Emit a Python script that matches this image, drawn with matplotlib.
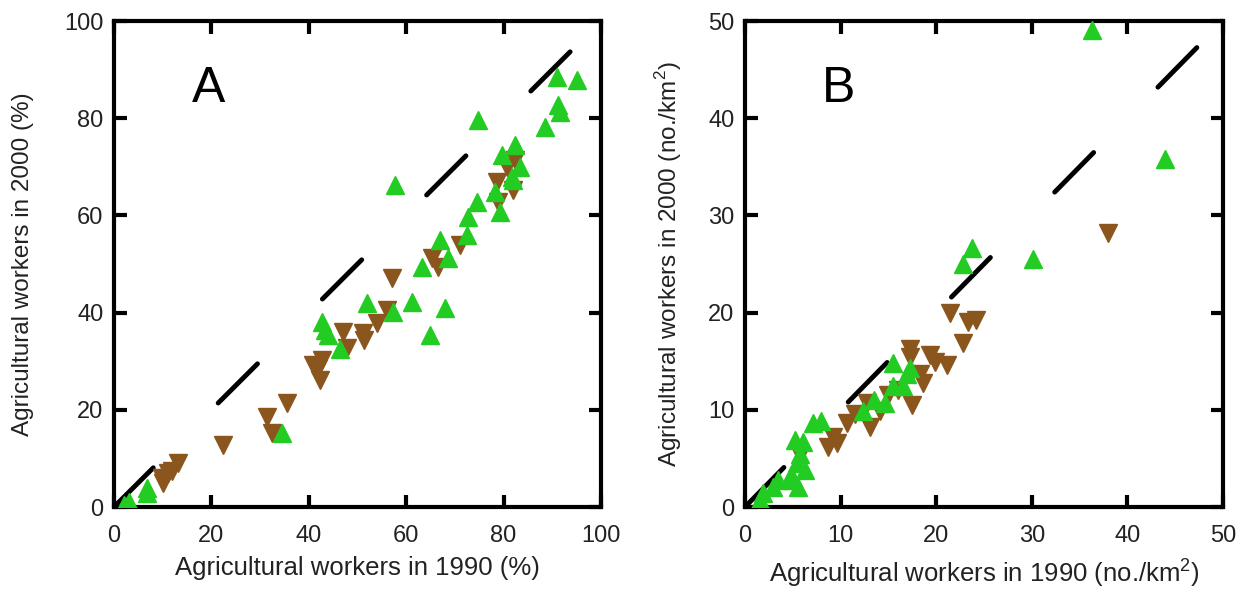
import matplotlib
matplotlib.use("Agg")
import matplotlib.pyplot as plt

plt.rcParams['font.family'] = ['Liberation Sans', 'DejaVu Sans']
plt.rcParams['mathtext.fontset'] = 'custom'
plt.rcParams['mathtext.rm'] = 'Liberation Sans'
plt.rcParams['lines.scale_dashes'] = False

# ---- data, panel A (%) ----
a_up_x = [2, 3, 6.8, 6.8, 34.5, 42.7, 43.3, 44, 46.4, 52, 57.3, 57.7, 61.2, 68, 64.9,
          63.2, 68.6, 66.9, 72.5, 72.7, 74.5, 79.3, 78.2, 82, 74.7, 95, 91, 91.2, 91.5,
          88.5, 82.3, 79.7, 83.4, 81.7]
a_up_y = [0.5, 1, 2.9, 3.9, 15.2, 38, 36.4, 35.4, 32.5, 42, 40.1, 66.3, 42.2, 41, 35.4,
          49.4, 51.2, 54.9, 56, 59.7, 62.8, 60.7, 64.8, 67.3, 79.6, 87.9, 88.5, 82.7, 81.3,
          78.2, 74.5, 72.4, 70, 67.9]
a_dn_x = [9.9, 10, 11.1, 12, 13.1, 22.4, 31.4, 32.4, 35.5, 40.9, 41.9, 42.3, 42.7, 47,
          47.8, 51.1, 51.3, 54, 56, 57, 65.3, 66.5, 71, 78.9, 82, 78.6, 82.3, 80.7]
a_dn_y = [6, 4.9, 7, 7.5, 9, 12.8, 18.5, 15.2, 21.4, 29.2, 28.6, 26.1, 30.2, 36,
          32.7, 35.8, 34.4, 37.8, 40.5, 47.1, 51.2, 49.4, 53.9, 62.8, 65.2, 66.9, 71.4, 70]

# ---- data, panel B (no./km2) ----
b_up_x = [36.3, 43.9, 30.1, 23.7, 22.8, 15.5, 16.9, 16.5, 15.5, 14.6, 12.3, 8, 7.1,
          5.2, 6.1, 5.4, 6.3, 5, 5.5, 2.9, 1.9, 1.6, 4.8, 5.8, 3.5, 17.3, 13.5]
b_up_y = [49.1, 35.8, 25.5, 26.6, 25, 14.8, 13.7, 12.5, 12.5, 10.7, 9.9, 8.9, 8.6,
          6.9, 6.7, 4.5, 3.8, 2.8, 2.1, 2.1, 1.4, 0.7, 3.3, 5.5, 2.8, 14.3, 11]
b_dn_x = [38, 21.4, 23.3, 24.2, 22.8, 21.1, 19.4, 17.3, 17.3, 19.9, 18.3, 17.5, 12.8,
          13.1, 14.1, 10.7, 9.2, 8.7, 9.6, 5.8, 16, 11.5, 15, 18.6]
b_dn_y = [28.2, 20, 19, 19.2, 16.9, 14.6, 15.6, 16.3, 15.4, 14.9, 13.7, 10.5, 10.7,
          8.2, 9.9, 8.6, 7.2, 6.2, 6.6, 5.3, 12, 9.6, 11.5, 12.8]

GREEN = '#22cc22'
BROWN = '#8a561e'

fig = plt.figure(figsize=(12.51, 5.89), dpi=100)
axA = fig.add_axes([0.0911, 0.1392, 0.3893, 0.8251])
axB = fig.add_axes([0.5955, 0.1392, 0.3821, 0.8251])

# (ax, data..., lim, step, dash end, tag, tag pos, xlabel, ylabel, ylabel x)
panels = [
    (axA, a_up_x, a_up_y, a_dn_x, a_dn_y, 100, 20, 95, 'A', (16, 86),
     'Agricultural workers in 1990 (%)', 'Agricultural workers in 2000 (%)', -0.164),
    (axB, b_up_x, b_up_y, b_dn_x, b_dn_y, 50, 10, 47.5, 'B', (8, 43),
     'Agricultural workers in 1990 (no./km$^2$)', 'Agricultural workers in 2000 (no./km$^2$)', -0.128),
]

for ax, ux, uy, dx, dy, lim, step, lend, tag, tagxy, xl, yl, ylx in panels:
    # 1:1 line
    ax.plot([0, lend], [0, lend], color='black', lw=3.5,
            dashes=(40, 66), solid_capstyle='round', dash_capstyle='round', zorder=1)
    ax.plot(dx, dy, linestyle='none', marker='v', ms=13, color=BROWN, zorder=2)
    ax.plot(ux, uy, linestyle='none', marker='^', ms=13, color=GREEN, zorder=3)
    ax.set_xlim(0, lim)
    ax.set_ylim(0, lim)
    ticks = list(range(0, lim + 1, step))
    ax.set_xticks(ticks)
    ax.set_yticks(ticks)
    ax.tick_params(direction='in', length=9, width=3, top=True, right=True,
                   labelsize=17, colors='black', labelcolor='#222222')
    ax.tick_params(axis='x', pad=13)
    ax.tick_params(axis='y', pad=7.5)
    for sp in ax.spines.values():
        sp.set_linewidth(3)
    ax.text(tagxy[0], tagxy[1], tag, fontsize=36, ha='left', va='center')
    ax.set_xlabel(xl, fontsize=18.5, color='#222222')
    ax.set_ylabel(yl, fontsize=17.5, color='#222222')
    ax.xaxis.set_label_coords(0.5, -0.10)
    ax.yaxis.set_label_coords(ylx, 0.5)

fig.savefig('out.png', dpi=100)
